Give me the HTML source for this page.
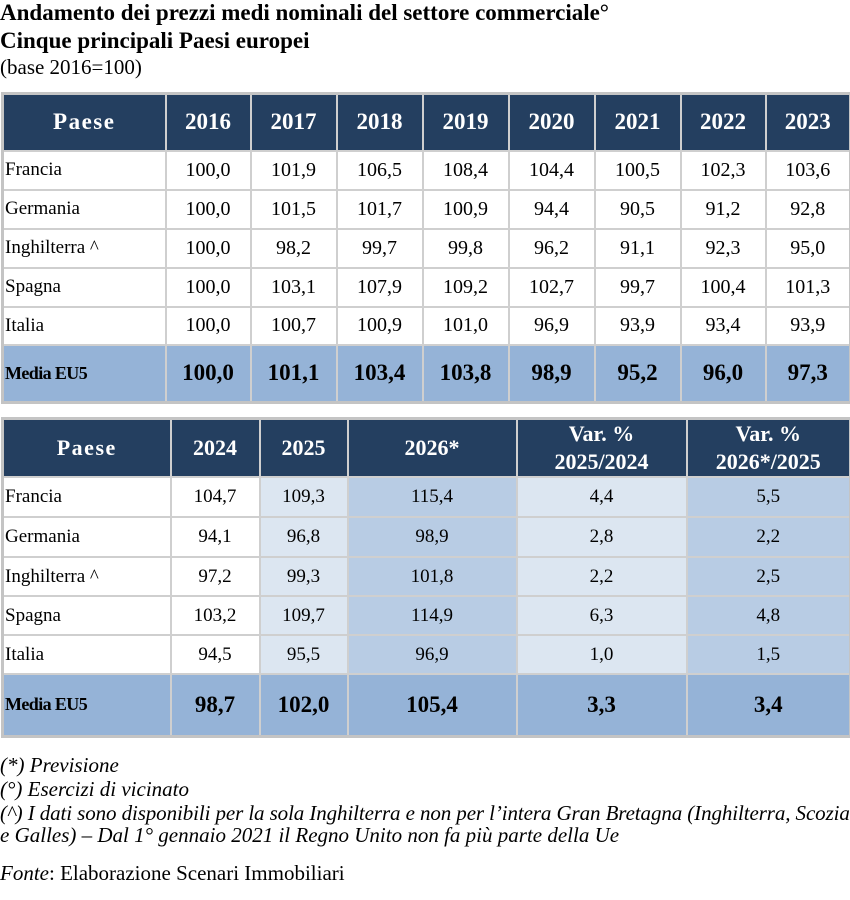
<!DOCTYPE html>
<html><head><meta charset="utf-8"><style>
body{margin:0;width:850px;height:900px;background:#fff;font-family:"Liberation Serif",serif;color:#000;position:relative;overflow:hidden}
.t{position:absolute;left:0;font-size:23px;line-height:27px;white-space:nowrap}
table{position:absolute;left:1px;border-collapse:collapse;table-layout:fixed;border:3px solid #c4c4c4}
td{border:2px solid #cfcfcf;padding:0;font-size:20px;text-align:center;overflow:hidden;white-space:nowrap}
td.l{text-align:left;padding-left:1px;font-size:19px}
tr.h td{background:#243f60;color:#fff;font-weight:bold;font-size:23px;border-color:#cfcfcf;line-height:28px}
tr.h td.p{letter-spacing:1.5px}
tr.f td{background:#95b3d7;font-weight:bold;font-size:23px}
tr.f td.l{font-size:18px;letter-spacing:-0.6px}
#t2 td{font-size:19px}
#t2 td.l{font-size:19px}
#t2 tr.h td{font-size:22px}
#t2 tr.f td{font-size:23px}
#t2 tr.f td.l{font-size:18px}
.a{background:#dce6f1}.b{background:#b8cce4}
.n{position:absolute;left:0;font-size:21px;font-style:italic;white-space:nowrap;line-height:22px}
</style></head><body>
<div class="t" style="top:-1px;font-weight:bold">Andamento dei prezzi medi nominali del settore commerciale°</div>
<div class="t" style="top:27px;font-weight:bold">Cinque principali Paesi europei</div>
<div class="t" style="top:54px;font-size:21px">(base 2016=100)</div>

<table style="top:92px;width:848px">
<colgroup><col style="width:163px"><col style="width:85px"><col style="width:86px"><col style="width:86px"><col style="width:86px"><col style="width:86px"><col style="width:86px"><col style="width:85px"><col style="width:85px"></colgroup>
<tr class="h" style="height:57px"><td class="p">Paese</td><td>2016</td><td>2017</td><td>2018</td><td>2019</td><td>2020</td><td>2021</td><td>2022</td><td>2023</td></tr>
<tr style="height:39px"><td class="l">Francia</td><td>100,0</td><td>101,9</td><td>106,5</td><td>108,4</td><td>104,4</td><td>100,5</td><td>102,3</td><td>103,6</td></tr>
<tr style="height:39px"><td class="l">Germania</td><td>100,0</td><td>101,5</td><td>101,7</td><td>100,9</td><td>94,4</td><td>90,5</td><td>91,2</td><td>92,8</td></tr>
<tr style="height:39px"><td class="l">Inghilterra ^</td><td>100,0</td><td>98,2</td><td>99,7</td><td>99,8</td><td>96,2</td><td>91,1</td><td>92,3</td><td>95,0</td></tr>
<tr style="height:39px"><td class="l">Spagna</td><td>100,0</td><td>103,1</td><td>107,9</td><td>109,2</td><td>102,7</td><td>99,7</td><td>100,4</td><td>101,3</td></tr>
<tr style="height:38px"><td class="l">Italia</td><td>100,0</td><td>100,7</td><td>100,9</td><td>101,0</td><td>96,9</td><td>93,9</td><td>93,4</td><td>93,9</td></tr>
<tr class="f" style="height:58px"><td class="l">Media EU5</td><td>100,0</td><td>101,1</td><td>103,4</td><td>103,8</td><td>98,9</td><td>95,2</td><td>96,0</td><td>97,3</td></tr>
</table>

<table id="t2" style="top:417px;width:848px">
<colgroup><col style="width:168px"><col style="width:89px"><col style="width:88px"><col style="width:169px"><col style="width:170px"><col style="width:164px"></colgroup>
<tr class="h" style="height:58px"><td class="p">Paese</td><td>2024</td><td>2025</td><td>2026*</td><td>Var. %<br>2025/2024</td><td>Var. %<br>2026*/2025</td></tr>
<tr style="height:40px"><td class="l">Francia</td><td>104,7</td><td class="a">109,3</td><td class="b">115,4</td><td class="a">4,4</td><td class="b">5,5</td></tr>
<tr style="height:40px"><td class="l">Germania</td><td>94,1</td><td class="a">96,8</td><td class="b">98,9</td><td class="a">2,8</td><td class="b">2,2</td></tr>
<tr style="height:39px"><td class="l">Inghilterra ^</td><td>97,2</td><td class="a">99,3</td><td class="b">101,8</td><td class="a">2,2</td><td class="b">2,5</td></tr>
<tr style="height:39px"><td class="l">Spagna</td><td>103,2</td><td class="a">109,7</td><td class="b">114,9</td><td class="a">6,3</td><td class="b">4,8</td></tr>
<tr style="height:39px"><td class="l">Italia</td><td>94,5</td><td class="a">95,5</td><td class="b">96,9</td><td class="a">1,0</td><td class="b">1,5</td></tr>
<tr class="f" style="height:62px"><td class="l">Media EU5</td><td>98,7</td><td>102,0</td><td>105,4</td><td>3,3</td><td>3,4</td></tr>
</table>

<div class="n" style="top:754px">(*) Previsione</div>
<div class="n" style="top:778px">(°) Esercizi di vicinato</div>
<div class="n" style="top:802px;letter-spacing:-0.1px">(^) I dati sono disponibili per la sola Inghilterra e non per l’intera Gran Bretagna (Inghilterra, Scozia</div>
<div class="n" style="top:824px">e Galles) – Dal 1° gennaio 2021 il Regno Unito non fa più parte della Ue</div>
<div class="n" style="top:862px;font-style:normal"><i>Fonte</i>: Elaborazione Scenari Immobiliari</div>
</body></html>
